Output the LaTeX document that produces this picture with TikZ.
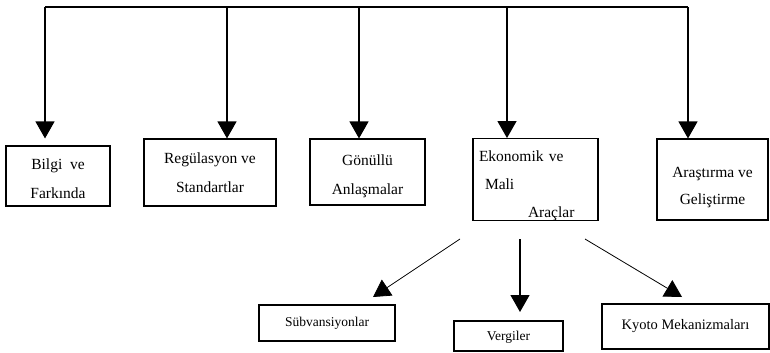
\documentclass[tikz,border=0pt]{standalone}
\usepackage{fontspec}
\setmainfont{Liberation Serif}
\usetikzlibrary{arrows.meta,calc}
\newcommand{\lift}[1]{\rule{0pt}{#1}}
\begin{document}
\begin{tikzpicture}[x=1bp,y=-1bp,
  box/.style={draw,line width=1.1bp,inner sep=0pt,align=center,font=\fontsize{15.5bp}{29bp}\selectfont},
  sbox/.style={draw,line width=1.1bp,inner sep=0pt,align=center,font=\fontsize{13.5bp}{16bp}\selectfont},
  conn/.style={line width=1.2bp,-{Triangle[width=19bp,length=17bp]}},
  dconn/.style={line width=0.8bp,-{Triangle[width=19bp,length=17bp]}}]
\useasboundingbox (0,0) rectangle (770,352);
% top boxes
\node[box,minimum width=104bp,minimum height=60bp] (bilgi) at (58,176) {\lift{16.5bp}Bilgi~ ve\\Farkında};
\node[box,minimum width=132bp,minimum height=67bp] (reg) at (210,172.5) {Regülasyon ve\\Standartlar};
\node[box,minimum width=115bp,minimum height=66bp] (gon) at (367.5,172) {\lift{19bp}Gönüllü\\Anlaşmalar};
\node[box,minimum width=119bp,minimum height=81bp,text width=113bp,inner xsep=6bp,align=left,font=\fontsize{15.5bp}{28bp}\selectfont] (eko) at (535.5,179.5) {\lift{22.5bp}Ekonomik ve\\\hspace*{6bp}Mali\\\hspace*{49bp}Araçlar};
\node[box,minimum width=111bp,minimum height=81bp,font=\fontsize{15.5bp}{27bp}\selectfont] (ars) at (712.5,179.5) {\lift{26.5bp}Araştırma ve\\Geliştirme};
% bottom boxes
\node[sbox,minimum width=136bp,minimum height=36bp] (sub) at (327,323) {Sübvansiyonlar};
\node[sbox,minimum width=109bp,minimum height=30bp] (ver) at (508.5,336) {\lift{12bp}Vergiler};
\node[sbox,minimum width=167bp,minimum height=45bp,font=\fontsize{14.5bp}{16bp}\selectfont] (kyo) at (685.5,326.5) {Kyoto Mekanizmaları};
% top distribution line
\coordinate (t1) at (45,7);
\coordinate (t2) at (227,7);
\coordinate (t3) at (359,7);
\coordinate (t4) at (507,7);
\coordinate (t5) at (688,7);
\draw[line width=1.2bp] (t1) -- (t5);
\draw[conn] (t1) -- (t1 |- reg.north);
\draw[conn] (t2) -- (t2 |- reg.north);
\draw[conn] (t3) -- (t3 |- gon.north);
\draw[conn] (t4) -- (t4 |- eko.north);
\draw[conn] (t5) -- (t5 |- ars.north);
% lower arrows
\coordinate (s1) at (460,239);
\coordinate (e1) at (373,297);
\coordinate (s2) at (520,239);
\coordinate (e2) at (520,312);
\coordinate (s3) at (585,239);
\coordinate (e3) at (682,297);
\draw[dconn] (s1) -- (e1);
\draw[conn] (s2) -- (e2);
\draw[dconn] (s3) -- (e3);
\end{tikzpicture}
\end{document}
